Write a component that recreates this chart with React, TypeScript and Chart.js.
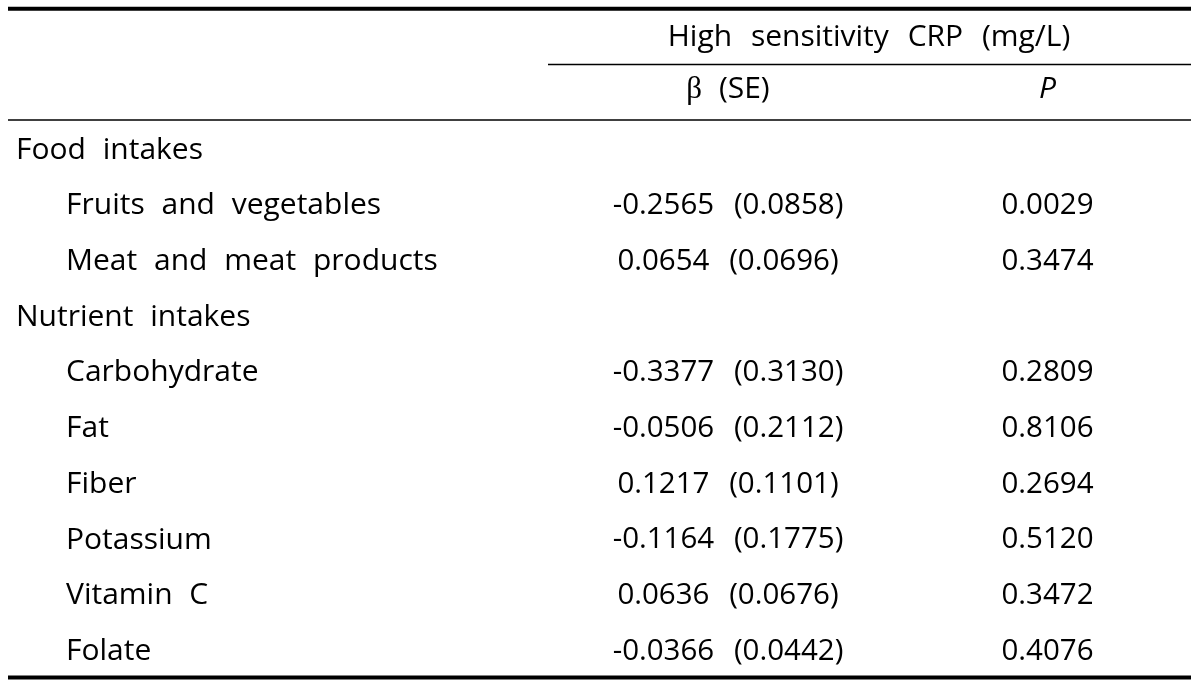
import React, { useEffect, useRef } from "react";
import { Chart, registerables } from "chart.js";

Chart.register(...registerables);

const headerTitle = "High sensitivity CRP (mg/L)";
const columnLabels = ["β (SE)", "P"];
const rowLabels = [
  "Food intakes",
  "Fruits and vegetables",
  "Meat and meat products",
  "Nutrient intakes",
  "Carbohydrate",
  "Fat",
  "Fiber",
  "Potassium",
  "Vitamin C",
  "Folate",
];
const groupRows = ["Food intakes", "Nutrient intakes"];
const betaValues: (number | null)[] = [null, -0.2565, 0.0654, null, -0.3377, -0.0506, 0.1217, -0.1164, 0.0636, -0.0366];
const seValues: (number | null)[] = [null, 0.0858, 0.0696, null, 0.313, 0.2112, 0.1101, 0.1775, 0.0676, 0.0442];
const pValues: (number | null)[] = [null, 0.0029, 0.3474, null, 0.2809, 0.8106, 0.2694, 0.512, 0.3472, 0.4076];

const FONT = '"Open Sans", "Noto Sans", sans-serif';
const LABEL_FS = 30;
const NUM_FS = 29.5;

const tablePlugin = {
  id: "tableText",
  afterDatasetsDraw(chart: any) {
    const ctx = chart.ctx as CanvasRenderingContext2D;
    const area = chart.chartArea;
    const yScale = chart.scales.y;
    const xScale = chart.scales.x;
    const c = ctx as any;
    ctx.save();
    ctx.fillStyle = "#000";
    ctx.textBaseline = "alphabetic";

    // row labels
    ctx.font = `${LABEL_FS}px ${FONT}`;
    c.wordSpacing = "9px";
    const labOff = LABEL_FS * 0.36;
    rowLabels.forEach((lab, i) => {
      const y = yScale.getPixelForValue(i) + labOff;
      const isGroup = groupRows.includes(lab);
      ctx.textAlign = "left";
      ctx.fillText(lab, isGroup ? 16 : 66, y);
    });

    // cells from dataset elements
    ctx.font = `${NUM_FS}px ${FONT}`;
    c.wordSpacing = "12px";
    const numOff = NUM_FS * 0.36;
    chart.data.datasets.forEach((ds: any, di: number) => {
      const meta = chart.getDatasetMeta(di);
      meta.data.forEach((el: any, k: number) => {
        ctx.textAlign = "center";
        ctx.fillText(ds.cellText[k], el.x, el.y + numOff);
      });
    });

    // headers
    const xBeta = xScale.getPixelForValue(0);
    const xP = xScale.getPixelForValue(1);
    const hdrY = area.top - 32.5 + labOff;
    const titleY = area.top - 84.5 + labOff;
    ctx.font = `${LABEL_FS}px ${FONT}`;
    c.wordSpacing = "11px";
    ctx.textAlign = "center";
    ctx.fillText(headerTitle, 869, titleY);

    // β (SE): β drawn in a serif face
    c.wordSpacing = "9px";
    const betaSym = columnLabels[0].slice(0, 1);
    const rest = columnLabels[0].slice(1);
    const serif = `${LABEL_FS + 1}px "Liberation Serif", "DejaVu Serif", serif`;
    ctx.font = serif;
    const wB = ctx.measureText(betaSym).width;
    ctx.font = `${LABEL_FS}px ${FONT}`;
    const wR = ctx.measureText(rest).width;
    const startX = xBeta - (wB + wR) / 2;
    ctx.textAlign = "left";
    ctx.font = serif;
    ctx.fillText(betaSym, startX, hdrY);
    ctx.font = `${LABEL_FS}px ${FONT}`;
    ctx.fillText(rest, startX + wB, hdrY);

    ctx.textAlign = "center";
    ctx.font = `italic ${LABEL_FS}px ${FONT}`;
    ctx.fillText(columnLabels[1], xP, hdrY);

    // rules
    ctx.strokeStyle = "#000";
    const rule = (x1: number, x2: number, y: number, w: number) => {
      ctx.lineWidth = w;
      ctx.beginPath();
      ctx.moveTo(x1, y);
      ctx.lineTo(x2, y);
      ctx.stroke();
    };
    const left = 8;
    const right = 1191;
    rule(left, right, 8.7, 4);
    rule(548, right, area.top - 55.5, 1.6);
    rule(left, right, area.top, 1.6);
    rule(left, right, area.bottom + 0.5, 4);
    ctx.restore();
  },
};

export default function App() {
  const ref = useRef<HTMLCanvasElement | null>(null);
  useEffect(() => {
    if (!ref.current) return;
    const betaRows: any[] = [];
    const betaText: string[] = [];
    const pRows: any[] = [];
    const pText: string[] = [];
    rowLabels.forEach((lab, i) => {
      const b = betaValues[i];
      const s = seValues[i];
      const p = pValues[i];
      if (b !== null && s !== null) {
        betaRows.push({ x: columnLabels[0], y: lab });
        betaText.push(`${b.toFixed(4)} (${s.toFixed(4)})`);
      }
      if (p !== null) {
        pRows.push({ x: columnLabels[1], y: lab });
        pText.push(p.toFixed(4));
      }
    });
    const chart = new Chart(ref.current, {
      type: "scatter",
      data: {
        datasets: [
          { label: "β (SE)", data: betaRows, pointRadius: 0, cellText: betaText } as any,
          { label: "P", data: pRows, pointRadius: 0, cellText: pText } as any,
        ],
      },
      options: {
        animation: false,
        responsive: false,
        devicePixelRatio: 1,
        layout: { padding: { left: 728, right: 152.5, top: 120, bottom: 7 } },
        plugins: { legend: { display: false }, tooltip: { enabled: false } },
        events: [],
        scales: {
          x: { type: "category", labels: columnLabels, offset: false, display: false },
          y: { type: "category", labels: rowLabels, offset: true, display: false },
        },
      },
      plugins: [tablePlugin],
    });
    return () => chart.destroy();
  }, []);
  return (
    <div style={{ position: "absolute", left: 0, top: 0, width: 1200, height: 684, background: "#fff" }}>
      <canvas ref={ref} width={1200} height={684} style={{ display: "block" }} />
    </div>
  );
}
